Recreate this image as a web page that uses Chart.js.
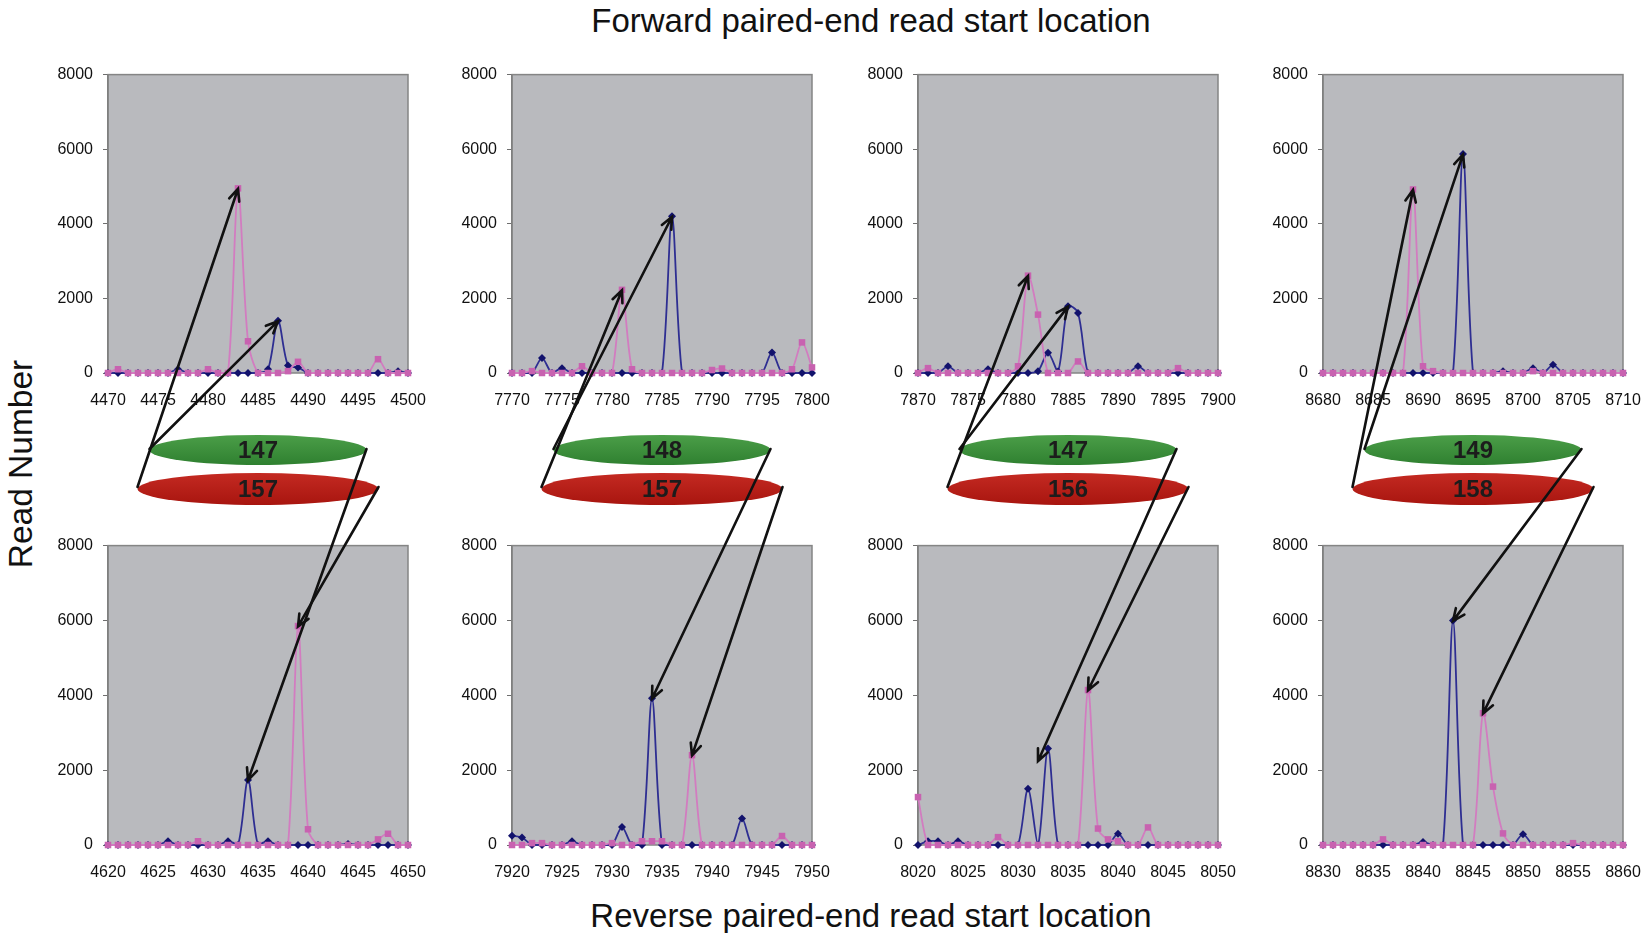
<!DOCTYPE html>
<html lang="en">
<head>
<meta charset="UTF-8">
<title>Paired-end read start locations</title>
<script src="https://cdn.jsdelivr.net/npm/chart.js"></script>
<style>
  body { margin: 0; background: #fff; font-family: "Liberation Sans", Arial, sans-serif; }
  #page { position: relative; width: 1649px; height: 933px; overflow: hidden; }
  .panel { position: absolute; }
  .title { position: absolute; font-size: 33px; color: #111; white-space: nowrap; transform: translate(-50%, -50%); }
  #ylab { position: absolute; left: 21px; top: 464px; font-size: 33.5px; color: #111; white-space: nowrap;
          transform: translate(-50%, -50%) rotate(-90deg); }
  #overlay { position: absolute; left: 0; top: 0; pointer-events: none; }
</style>
</head>
<body>
<div id="page">
  <div class="title" style="left:871px; top:21px;">Forward paired-end read start location</div>
  <div class="title" style="left:871px; top:916px;">Reverse paired-end read start location</div>
  <div id="ylab">Read Number</div>
  <canvas id="overlay" width="1649" height="933"></canvas>
</div>
<script>
// first position of each panel (31 positions per panel)
const topStarts = [4470, 7770, 7870, 8680];
const bottomStarts = [4620, 7920, 8020, 8830];

// forward read counts (blue = diamonds, pink = squares)
const top1Blue = [0,0,0,0,0, 0,0,100,0,0, 0,0,0,0,0, 0,100,1400,200,150, 0,0,0,0,0, 0,0,0,0,50, 0];
const top1Pink = [0,100,0,0,0, 0,0,0,0,0, 100,0,0,4950,850, 0,0,0,50,300, 0,0,0,0,0, 0,0,370,0,0, 0];
const top2Blue = [0,0,0,400,0, 130,0,0,0,0, 0,0,0,0,0, 0,4200,0,0,0, 0,0,0,0,0, 0,550,0,0,0, 0];
const top2Pink = [0,0,50,0,0, 0,0,180,0,0, 0,2230,100,0,0, 0,0,0,0,0, 80,120,0,0,0, 0,0,0,100,820, 150];
const top3Blue = [0,0,0,180,0, 0,0,100,0,0, 0,0,50,540,40, 1790,1610,0,0,0, 0,0,180,0,0, 0,0,0,0,0, 0];
const top3Pink = [0,130,0,0,0, 0,0,0,0,0, 180,2610,1565,0,0, 0,310,0,0,0, 0,0,0,0,0, 0,130,0,0,0, 0];
const top4Blue = [0,0,0,0,0, 0,0,0,0,0, 0,0,0,0,5870, 0,0,0,50,0, 0,130,0,220,0, 0,0,0,0,0, 0];
const top4Pink = [0,0,0,0,0, 0,0,0,0,4920, 180,50,0,0,0, 0,0,0,0,0, 0,50,0,0,0, 0,0,0,0,0, 0];

// reverse read counts
const bot1Blue = [0,0,0,0,0, 0,100,0,0,0, 0,0,100,0,1740, 0,100,0,0,0, 0,0,0,0,30, 0,0,0,0,0, 0];
const bot1Pink = [0,0,0,0,0, 0,0,0,0,100, 0,0,0,0,0, 0,0,0,0,5850, 420,0,0,0,0, 0,0,150,300,0, 0];
const bot2Blue = [250,200,0,0,0, 0,100,0,0,0, 0,480,0,0,3920, 0,0,0,0,0, 0,0,0,710,0, 0,0,0,0,0, 0];
const bot2Pink = [0,0,50,50,0, 0,0,0,0,0, 50,0,0,100,100, 100,0,0,2400,0, 0,0,0,0,0, 0,0,240,0,0, 0];
const bot3Blue = [0,100,100,0,100, 0,0,0,0,0, 0,1500,0,2580,0, 0,0,0,0,0, 300,0,0,0,0, 0,0,0,0,0, 0];
const bot3Pink = [1280,0,0,0,0, 0,0,0,210,0, 0,0,0,0,0, 0,0,4140,440,150, 100,0,0,470,0, 0,0,0,0,0, 0];
const bot4Blue = [0,0,0,0,0, 0,0,0,0,0, 80,0,0,6000,0, 0,0,0,0,0, 290,0,0,0,0, 0,0,0,0,0, 0];
const bot4Pink = [0,0,0,0,0, 0,150,0,0,0, 0,0,0,0,0, 0,3520,1560,310,0, 0,0,0,0,0, 50,0,0,0,0, 0];

// fragment sizes in the ellipses
const greenLabels = [147, 148, 147, 149];
const redLabels = [157, 157, 156, 158];
// where the green arrow of a reverse panel points, when it is not the blue peak (data units)
const bottomGreenTarget = [null, null, { x: 8032, y: 2250 }, null];

const yTicks = [0, 2000, 4000, 6000, 8000];

const topBlue = [top1Blue, top2Blue, top3Blue, top4Blue];
const topPink = [top1Pink, top2Pink, top3Pink, top4Pink];
const botBlue = [bot1Blue, bot2Blue, bot3Blue, bot4Blue];
const botPink = [bot1Pink, bot2Pink, bot3Pink, bot4Pink];

[...topBlue, ...topPink, ...botBlue, ...botPink].forEach((a, i) => {
    if (a.length !== 31) throw new Error('series ' + i + ' has ' + a.length + ' values');
});

// layout (plot area boxes in page pixels)
const plotLefts = [108, 512, 918, 1323];
const plotW = 300;
const rows = [{ top: 75, h: 298 }, { top: 546, h: 299 }];
const axisW = 60, axisH = 40, padRight = 30;

const font = { family: '"Liberation Sans", Arial, sans-serif', size: 16 };

// grey plot area with a thin border, like the spreadsheet original
const plotBg = {
    id: 'plotBg',
    beforeDraw(chart) {
        const { ctx, chartArea: a } = chart;
        ctx.save();
        ctx.fillStyle = '#b9babe';
        ctx.fillRect(a.left, a.top, a.width, a.height);
        ctx.restore();
    },
    beforeDatasetsDraw(chart) {
        const { ctx, chartArea: a } = chart;
        ctx.save();
        ctx.strokeStyle = '#858585';
        ctx.lineWidth = 1.5;
        ctx.strokeRect(a.left, a.top, a.width, a.height);
        ctx.restore();
    }
};

function config(start, blue, pink) {
    const pts = arr => arr.map((v, i) => ({ x: start + i, y: v }));
    return {
        type: 'line',
        data: {
            datasets: [
                {
                    label: 'pink', data: pts(pink), order: 0,
                    borderColor: '#d27cc0', borderWidth: 1.8,
                    pointStyle: 'rect', pointRadius: 4.6,
                    pointBackgroundColor: '#c862b0', pointBorderColor: '#c862b0', pointBorderWidth: 0,
                    tension: 0.3, clip: false
                },
                {
                    label: 'blue', data: pts(blue), order: 1,
                    borderColor: '#2e2e92', borderWidth: 1.8,
                    pointStyle: 'rectRot', pointRadius: 4,
                    pointBackgroundColor: '#12126c', pointBorderColor: '#12126c', pointBorderWidth: 0,
                    tension: 0.3, clip: false
                }
            ]
        },
        options: {
            responsive: false,
            animation: false,
            layout: { padding: { top: 0, right: padRight, left: 0, bottom: 0 } },
            plugins: { legend: { display: false }, tooltip: { enabled: false } },
            scales: {
                x: {
                    type: 'linear', min: start, max: start + 30,
                    afterFit(s) { s.height = axisH; },
                    grid: { display: false },
                    border: { display: false },
                    ticks: { stepSize: 5, padding: 10, color: '#111', font: font, maxRotation: 0,
                             callback: v => String(v) }
                },
                y: {
                    min: 0, max: 8000,
                    afterFit(s) { s.width = axisW; },
                    afterBuildTicks(s) { s.ticks = yTicks.map(v => ({ value: v })); },
                    grid: { drawOnChartArea: false, drawTicks: true, tickLength: 5, color: '#6e6e6e' },
                    border: { display: true, color: '#6e6e6e', width: 1.5 },
                    ticks: { padding: 10, color: '#111', font: font, callback: v => String(v) }
                }
            }
        },
        plugins: [plotBg]
    };
}

function makePanel(row, col, start, blue, pink) {
    const r = rows[row];
    const w = axisW + plotW + padRight;
    const div = document.createElement('div');
    div.className = 'panel';
    document.getElementById('page').insertBefore(div, document.getElementById('overlay'));

    let h = r.h + axisH + 20, chart = null, a = null;
    // build once to learn where the library puts the plot area, then size the canvas to fit
    for (let pass = 0; pass < 2; pass++) {
        if (chart) chart.destroy();
        div.innerHTML = '';
        const cv = document.createElement('canvas');
        cv.width = w; cv.height = h;
        cv.style.width = w + 'px'; cv.style.height = h + 'px';
        div.appendChild(cv);
        chart = new Chart(cv.getContext('2d'), config(start, blue, pink));
        a = chart.chartArea;
        h = Math.round(a.top + r.h + axisH);
    }
    const offX = plotLefts[col] - a.left, offY = r.top - a.top;
    div.style.left = offX + 'px';
    div.style.top = offY + 'px';
    return { chart, offX, offY, start };
}

const topPanels = topStarts.map((s, c) => makePanel(0, c, s, topBlue[c], topPink[c]));
const botPanels = bottomStarts.map((s, c) => makePanel(1, c, s, botBlue[c], botPink[c]));

function toPage(p, x, y) {
    return { x: p.offX + p.chart.scales.x.getPixelForValue(x), y: p.offY + p.chart.scales.y.getPixelForValue(y) };
}

// position of a series' highest point, in page pixels
function peak(p, series) {
    let k = 0;
    series.forEach((v, i) => { if (v > series[k]) k = i; });
    return toPage(p, p.start + k, series[k]);
}

const ov = document.getElementById('overlay').getContext('2d');

function ellipse(cx, cy, rx, ry, c1, c2, label) {
    const g = ov.createLinearGradient(0, cy - ry, 0, cy + ry);
    g.addColorStop(0, c1);
    g.addColorStop(1, c2);
    ov.beginPath();
    ov.ellipse(cx, cy, rx, ry, 0, 0, Math.PI * 2);
    ov.fillStyle = g;
    ov.fill();
    ov.fillStyle = '#1c1c1c';
    ov.font = 'bold 24px "Liberation Sans", Arial, sans-serif';
    ov.textAlign = 'center';
    ov.textBaseline = 'middle';
    ov.fillText(String(label), cx, cy + 1);
}

function arrow(x0, y0, x1, y1) {
    const ang = Math.atan2(y1 - y0, x1 - x0);
    const len = 13, spread = 0.42;
    ov.strokeStyle = '#111';
    ov.lineWidth = 2.6;
    ov.lineCap = 'round';
    ov.beginPath();
    ov.moveTo(x0, y0);
    ov.lineTo(x1, y1);
    ov.moveTo(x1 - len * Math.cos(ang - spread), y1 - len * Math.sin(ang - spread));
    ov.lineTo(x1, y1);
    ov.lineTo(x1 - len * Math.cos(ang + spread), y1 - len * Math.sin(ang + spread));
    ov.stroke();
}

for (let c = 0; c < 4; c++) {
    const cx = plotLefts[c] + plotW / 2;
    const g = { cy: 450, rx: 108.5, ry: 15 };
    const r = { cy: 489, rx: 120.5, ry: 16 };
    ellipse(cx, r.cy, r.rx, r.ry, '#c42a22', '#a8150f', redLabels[c]);
    ellipse(cx, g.cy, g.rx, g.ry, '#4b9e48', '#2f8030', greenLabels[c]);

    const tB = peak(topPanels[c], topBlue[c]);
    const tP = peak(topPanels[c], topPink[c]);
    const gt = bottomGreenTarget[c];
    const bB = gt ? toPage(botPanels[c], gt.x, gt.y) : peak(botPanels[c], botBlue[c]);
    const bP = peak(botPanels[c], botPink[c]);
    arrow(cx - g.rx, g.cy - 1, tB.x, tB.y);
    arrow(cx - r.rx, r.cy - 2, tP.x, tP.y);
    arrow(cx + g.rx, g.cy - 1, bB.x, bB.y);
    arrow(cx + r.rx, r.cy - 2, bP.x, bP.y);
}
</script>
</body>
</html>
